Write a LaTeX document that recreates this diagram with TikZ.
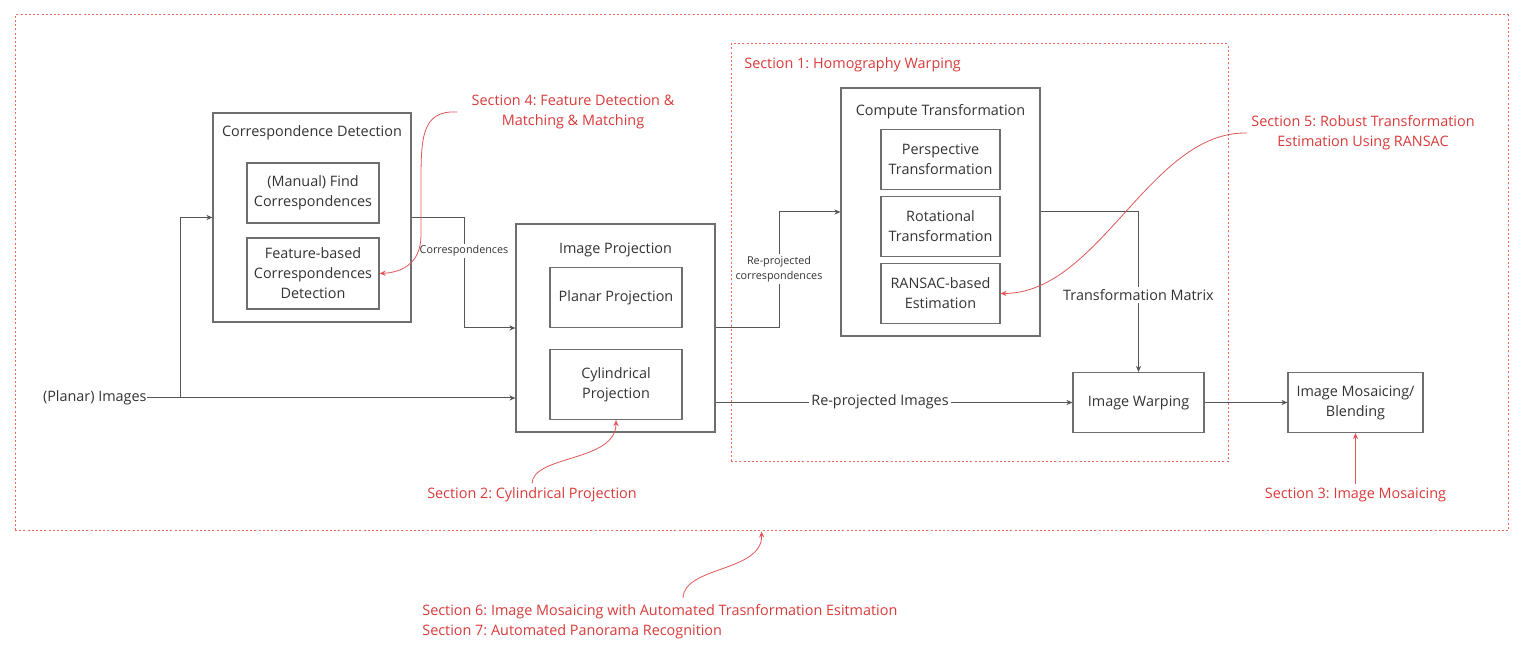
\documentclass[tikz,border=0pt]{standalone}
\usepackage{fontspec,xcolor,tikz}
\setmainfont{Open Sans}
\usetikzlibrary{arrows.meta}
\definecolor{ink}{HTML}{333333}
\definecolor{rahmen}{HTML}{6E6E6E}
\definecolor{leitung}{HTML}{555555}
\definecolor{sektion}{HTML}{D93A3A}
\definecolor{zonenrot}{HTML}{EE6A5E}
\newcommand{\lbl}{\fontsize{7.2}{10}\selectfont}
\newcommand{\micro}{\fontsize{5.4}{7.5}\selectfont}
\tikzset{kasten/.style={draw=rahmen,line width=0.6pt,fill=white,inner sep=0,
    align=center,font=\lbl,text=ink},
  titel/.style={inner sep=0,font=\lbl,text=ink},
  pfeil/.style={leitung,line width=0.5pt,-{Stealth[length=3pt,width=2.6pt]}},
  marke/.style={inner sep=1pt,fill=white,text=ink,align=center},
  zone/.style={draw=zonenrot,line width=0.5pt,dash pattern=on 1pt off 1.1pt,inner sep=0},
  hinweis/.style={inner sep=2pt,font=\lbl,text=sektion,align=center},
  hinweispfeil/.style={sektion!85,line width=0.4pt,-{Stealth[length=3pt,width=2.6pt]}}}

\begin{document}
\frenchspacing
\begin{tikzpicture}[x=0.5pt,y=-0.5pt]
\useasboundingbox (0,0) rectangle (1523,656);
\node[zone,minimum width=746.5pt,minimum height=258pt] (gesamt) at (761.5,273) {};
\node[zone,minimum width=248.5pt,minimum height=209pt] (sek1) at (979.5,253) {};
\node[hinweis,anchor=west] (s1) at (740,65) {Section 1: Homography Warping};

\node[kasten,minimum width=99pt,minimum height=104.5pt] (cd) at (312,217.5) {};
\node[titel] (cdtitel) at (312,133) {Correspondence Detection};
\node[kasten,minimum width=66pt,minimum height=30pt] (manuell) at (313,193) {(Manual) Find\\Correspondences};
\node[kasten,minimum width=66pt,minimum height=35.5pt] (merkmal) at (313,273.5) {Feature-based\\Correspondences\\Detection};

\node[kasten,minimum width=99.5pt,minimum height=104pt] (ip) at (615.5,328) {};
\node[titel] (iptitel) at (615.5,250) {Image Projection};
\node[kasten,minimum width=66pt,minimum height=30pt] (planar) at (616,297.5) {Planar Projection};
\node[kasten,minimum width=66pt,minimum height=35pt] (zylinder) at (616,384.5) {Cylindrical\\Projection};

\node[kasten,minimum width=99.5pt,minimum height=124pt] (ct) at (940.5,212) {};
\node[titel] (cttitel) at (940.5,112) {Compute Transformation};
\node[kasten,minimum width=59.5pt,minimum height=30pt] (persp) at (940.5,159.5) {Perspective\\Transformation};
\node[kasten,minimum width=59.5pt,minimum height=30pt] (rot) at (940.5,226.5) {Rotational\\Transformation};
\node[kasten,minimum width=59.5pt,minimum height=30pt] (ransac) at (940.5,293.5) {RANSAC-based\\Estimation};

\node[kasten,minimum width=65.5pt,minimum height=30pt] (warp) at (1138.5,402.5) {Image Warping};
\node[kasten,minimum width=67.5pt,minimum height=30pt] (mosaik) at (1355.5,402.5) {Image Mosaicing/\\Blending};
\node[titel,anchor=east] (bilder) at (147,398) {(Planar) Images};

\draw[pfeil] (bilder.east) -- ++(33,0) |- (cd.west);
\draw[pfeil] (bilder.east) -- (bilder.east -| ip.west);
\draw[pfeil] (cd.east) -- ++(53,0) |- (ip.west);
\node[marke,font=\micro] (korr) at (464,251) {Correspondences};
\draw[pfeil] (ip.east) -- ++(64,0) |- (ct.west);
\node[marke,font=\micro] (reprojkorr) at (779,269) {Re-projected\\correspondences};
\draw[pfeil] (ip.east |- warp.west) -- (warp.west);
\node[marke,font=\lbl] (reprojbild) at (880,402) {Re-projected Images};
\draw[pfeil] (ct.east) -| (warp.north);
\node[marke,font=\lbl] (matrix) at (1138.5,295) {Transformation Matrix};
\draw[pfeil] (warp.east) -- (mosaik.west);

\node[hinweis] (s4) at (573,112) {Section 4: Feature Detection \&\\Matching \& Matching};
\node[hinweis] (s5) at (1363,133) {Section 5: Robust Transformation\\Estimation Using RANSAC};
\node[hinweis] (s2) at (532,495) {Section 2: Cylindrical Projection};
\node[hinweis] (s3) at (1355.5,495) {Section 3: Image Mosaicing};
\node[hinweis,anchor=west,align=left] (s67) at (418,622) {Section 6: Image Mosaicing with Automated Trasnformation Esitmation\\Section 7: Automated Panorama Recognition};
\coordinate (s6start) at (683,598);

\draw[hinweispfeil] ([xshift=-5pt]s4.west) .. controls (420,110) and (421,140) .. (421,190)
  -- (421,235) .. controls (421,265) and (400,272.5) .. (merkmal.east);
\draw[hinweispfeil] (s5.west) .. controls (1150,131) and (1100,293) .. (ransac.east);
\draw[hinweispfeil] (s2.north) .. controls (533,455) and (616,462) .. (zylinder.south);
\draw[hinweispfeil] (s3.north) -- (mosaik.south);
\draw[hinweispfeil] (s6start) .. controls (684,566) and (763,572) .. (gesamt.south);
\end{tikzpicture}
\end{document}
